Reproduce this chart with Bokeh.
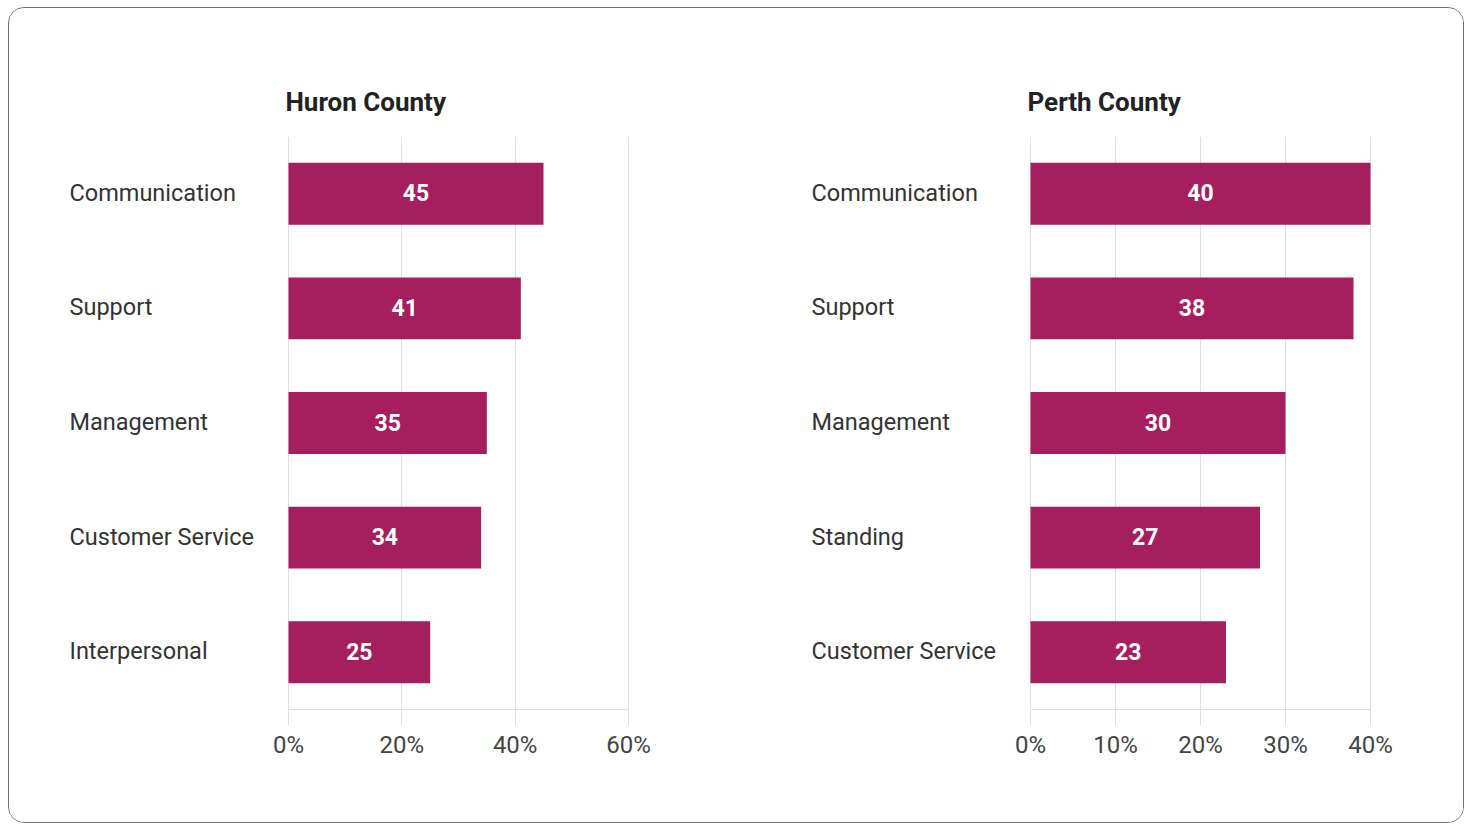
from bokeh.plotting import figure
from bokeh.layouts import row
from bokeh.models import ColumnDataSource, FactorRange, Range1d, FixedTicker, PrintfTickFormatter
from bokeh.core.properties import value
from bokeh.embed import file_html
from bokeh.resources import INLINE

huron_title = "Huron County"
huron_cats = ["Communication", "Support", "Management", "Customer Service", "Interpersonal"]
huron_vals = [45, 41, 35, 34, 25]
huron_ticks = [0, 20, 40, 60]

perth_title = "Perth County"
perth_cats = ["Communication", "Support", "Management", "Standing", "Customer Service"]
perth_vals = [40, 38, 30, 27, 23]
perth_ticks = [0, 10, 20, 30, 40]

BAR = "#a51f5f"
GRID = "#e0e0e0"
FONT = "Roboto"

PLOT_W = 340      # pixel width of the value area (0 .. max tick)
LABEL_W = 219     # pixel width reserved for the category labels left of 0


def make_chart(title, cats, vals, ticks, width):
    vmax = ticks[-1]
    s = PLOT_W / vmax                       # pixels per unit
    x_start = -LABEL_W / s
    x_end = vmax + 1.0 / s
    frame_w = LABEL_W + PLOT_W + 1
    mb_left = 60
    mb_right = width - mb_left - frame_w

    src = ColumnDataSource(dict(cat=cats, val=vals, mid=[v / 2 for v in vals],
                                txt=[str(v) for v in vals],
                                lx=[x_start] * len(cats)))
    p = figure(width=width, height=814, output_backend="svg", toolbar_location=None,
               y_range=FactorRange(factors=list(reversed(cats)), range_padding=0),
               x_range=Range1d(x_start, x_end),
               min_border_left=mb_left, min_border_right=mb_right,
               min_border_top=128, min_border_bottom=113)
    p.outline_line_color = None
    p.background_fill_color = "white"
    p.border_fill_color = "white"

    p.hbar(y="cat", left=0, right="val", height=0.54, source=src,
           fill_color=BAR, line_color=None)
    p.text(x="mid", y="cat", text="txt", source=src, text_color="white",
           text_font=value(FONT), text_font_size="23px", text_font_style="bold",
           text_align="center", text_baseline="middle", y_offset=-1)
    p.text(x="lx", y="cat", text="cat", source=src, text_color="#333333",
           text_font=value(FONT), text_font_size="23.5px",
           text_align="left", text_baseline="middle", y_offset=-1)

    p.title.text = title
    p.title.align = "left"
    p.title.text_font = FONT
    p.title.text_font_size = "26px"
    p.title.text_font_style = "bold"
    p.title.text_color = "#222222"
    p.title.standoff = 39
    p.title.offset = 216

    p.yaxis.visible = False
    p.ygrid.visible = False

    p.xaxis.bounds = (0, vmax)
    p.xaxis.ticker = FixedTicker(ticks=ticks)
    p.xaxis.formatter = PrintfTickFormatter(format="%d%%")
    p.xaxis.axis_line_color = GRID
    p.xaxis.major_tick_line_color = GRID
    p.xaxis.minor_tick_line_color = None
    p.xaxis.major_tick_in = 0
    p.xaxis.major_tick_out = 16
    p.xaxis.major_label_standoff = 5
    p.xaxis.major_label_text_font = FONT
    p.xaxis.major_label_text_font_size = "24px"
    p.xaxis.major_label_text_color = "#444444"

    p.xgrid.ticker = FixedTicker(ticks=ticks)
    p.xgrid.bounds = (0, vmax)
    p.xgrid.grid_line_color = GRID
    p.xgrid.grid_line_width = 1
    return p


p1 = make_chart(huron_title, huron_cats, huron_vals, huron_ticks, 742)
p2 = make_chart(perth_title, perth_cats, perth_vals, perth_ticks, 712)

layout = row(p1, p2, styles={"border": "1.5px solid #707070", "border-radius": "16px",
                             "overflow": "hidden", "background": "white",
                             "margin": "7px 0 0 8px"})

open("out.html", "w").write(file_html(layout, INLINE))
